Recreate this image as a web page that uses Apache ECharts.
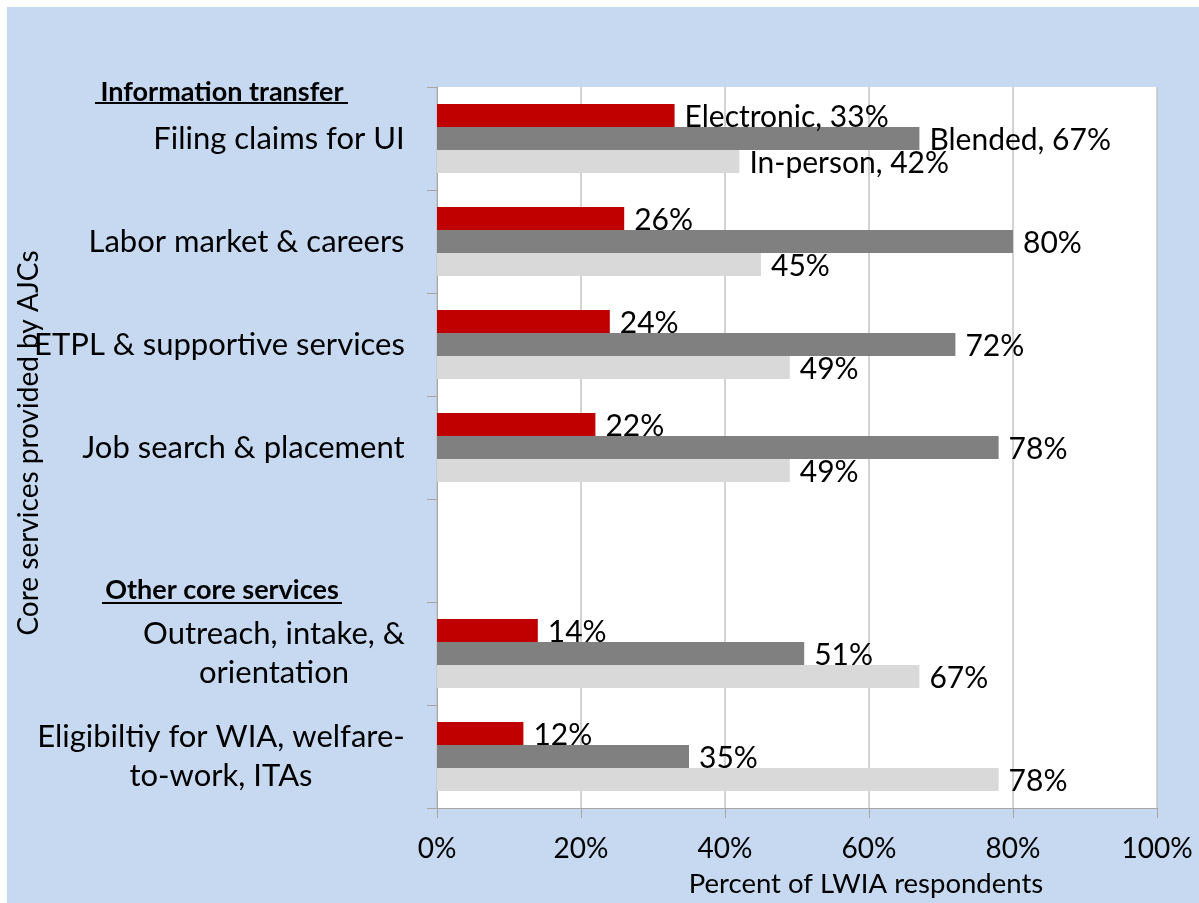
<!DOCTYPE html>
<html>
<head>
<meta charset="utf-8">
<script src="https://cdn.jsdelivr.net/npm/echarts@6/dist/echarts.min.js"></script>
<style>
html,body{margin:0;padding:0;background:#fff;}
#chart{position:absolute;left:7px;top:7px;width:1192px;height:896px;}
</style>
</head>
<body>
<div id="chart"></div>
<script>
const categories = ['Filing claims for UI', 'Labor market & careers', 'ETPL & supportive services', 'Job search & placement', '', 'Outreach, intake, &\norientation', 'Eligibiltiy for WIA, welfare-\nto-work, ITAs'];
const seriesNames = ['Electronic', 'Blended', 'In-person'];
const electronic = [33, 26, 24, 22, null, 14, 12];
const blended = [67, 80, 72, 78, null, 51, 35];
const inPerson = [42, 45, 49, 49, null, 67, 78];
const xTickValues = [0, 20, 40, 60, 80, 100];
const headings = ['Information transfer', 'Other core services'];
const xAxisTitle = 'Percent of LWIA respondents';
const yAxisTitle = 'Core services provided by AJCs';

const FONT = 'Lato';
const CAT_SIZE = 31;
const colors = ['#c00000', '#808080', '#d9d9d9'];

const ctx = document.createElement('canvas').getContext('2d');
ctx.font = CAT_SIZE + 'px ' + FONT;
const rich = {};
categories.forEach((c, i) => {
  const lines = c.split('\n');
  const w = Math.ceil(Math.max(...lines.map(l => ctx.measureText(l).width)));
  rich['c' + i] = { width: w, align: 'center', fontSize: CAT_SIZE, fontFamily: FONT, color: '#000', lineHeight: 39 };
});

const chart = echarts.init(document.getElementById('chart'));
const allData = [electronic, blended, inPerson];
const option = {
  backgroundColor: '#c6d9f1',
  animation: false,
  grid: { left: 430, top: 80, right: 42, bottom: 95, containLabel: false, outerBoundsMode: 'none', show: true, backgroundColor: '#ffffff', borderWidth: 0 },
  xAxis: {
    type: 'value', min: xTickValues[0], max: xTickValues[xTickValues.length - 1], interval: 20,
    axisLine: { show: true, lineStyle: { color: '#a6a6a6', width: 1 } },
    axisTick: { show: true, length: 10, lineStyle: { color: '#a6a6a6' } },
    splitLine: { show: true, lineStyle: { color: '#c4c4c4', width: 1.5 } },
    axisLabel: { margin: 27, fontSize: 28, fontFamily: FONT, color: '#000', formatter: v => v + '%' }
  },
  yAxis: {
    type: 'category', inverse: true, data: categories,
    axisLine: { show: true, lineStyle: { color: '#a6a6a6', width: 1 } },
    axisTick: { show: true, length: 10, lineStyle: { color: '#a6a6a6' } },
    splitLine: { show: false },
    axisLabel: {
      margin: 32, fontSize: CAT_SIZE, fontFamily: FONT, color: '#000', interval: 0,
      formatter: (v, i) => v.split('\n').map(l => '{c' + i + '|' + l + '}').join('\n'),
      rich: rich
    }
  },
  series: seriesNames.map((n, k) => ({
    name: n, type: 'bar', data: allData[k], barGap: '0%', barCategoryGap: '33%',
    itemStyle: { color: colors[k] },
    label: {
      show: true, position: 'right', distance: 10, offset: [0, 2],
      fontSize: 30, fontFamily: FONT, color: '#000',
      formatter: p => (p.dataIndex === 0 ? p.seriesName + ', ' : '') + p.value + '%'
    }
  })),
  graphic: [
    { type: 'text', x: 215, y: 85, style: { text: headings[0], fontSize: 27, fontWeight: 'bold', fontFamily: FONT, fill: '#000', align: 'center', verticalAlign: 'middle' } },
    { type: 'text', x: 215, y: 583, style: { text: headings[1], fontSize: 27, fontWeight: 'bold', fontFamily: FONT, fill: '#000', align: 'center', verticalAlign: 'middle' } },
    { type: 'line', shape: { x1: 88, y1: 96, x2: 341, y2: 96 }, style: { stroke: '#000', lineWidth: 2 } },
    { type: 'line', shape: { x1: 95, y1: 596, x2: 335, y2: 596 }, style: { stroke: '#000', lineWidth: 2 } },
    { type: 'text', x: 859, y: 877, style: { text: xAxisTitle, fontSize: 27.5, fontFamily: FONT, fill: '#000', align: 'center', verticalAlign: 'middle' } },
    { type: 'text', x: 22, y: 436, rotation: Math.PI / 2, style: { text: yAxisTitle, fontSize: 28, fontFamily: FONT, fill: '#000', align: 'center', verticalAlign: 'middle' } }
  ]
};
chart.setOption(option);
</script>
</body>
</html>
